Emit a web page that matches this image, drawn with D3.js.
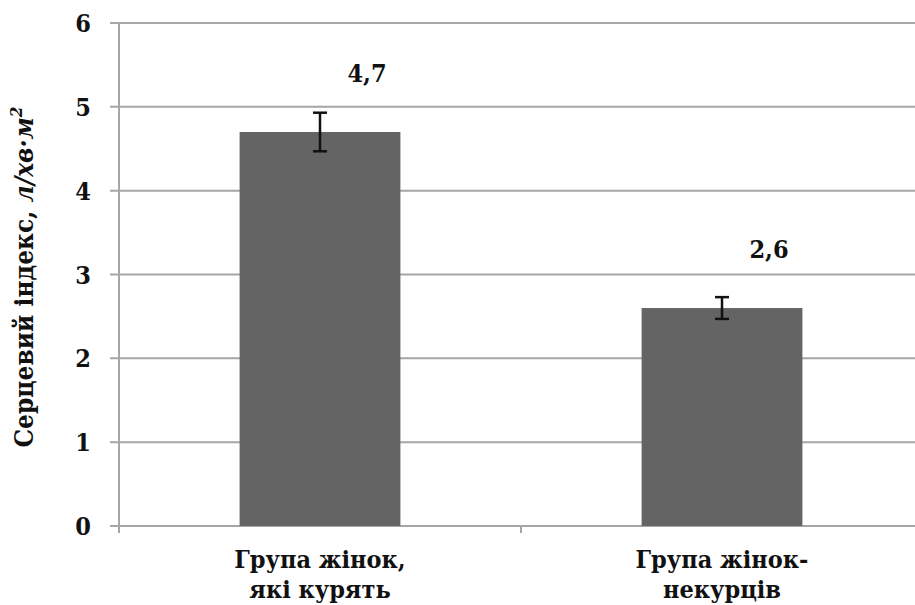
<!DOCTYPE html>
<html>
<head>
<meta charset="utf-8">
<script src="https://cdn.jsdelivr.net/npm/d3@7"></script>
<style>
  body { margin: 0; background: #fff; }
  svg text { font-stretch: condensed; }
</style>
</head>
<body>
<svg id="chart" width="915" height="605"></svg>
<script>
// chart data
var categories = [["Група жінок,", "які курять"], ["Група жінок-", "некурців"]];
var values = [4.7, 2.6];
var errors = [0.23, 0.13];
var valueLabels = ["4,7", "2,6"];
var yTicks = [0, 1, 2, 3, 4, 5, 6];

var FONT = "'DejaVu Serif Condensed', 'DejaVu Serif', serif";

var svg = d3.select("#chart")
    .attr("font-family", FONT).attr("font-weight", "bold");
var plotLeft = 119, plotRight = 923, plotTop = 23, plotBottom = 526;

var x = d3.scaleBand().domain(d3.range(values.length)).range([plotLeft, plotRight]).paddingInner(0.6).paddingOuter(0.3);
var xOuter = d3.scaleBand().domain(d3.range(values.length)).range([plotLeft, plotRight]);
var y = d3.scaleLinear().domain([0, 6]).range([plotBottom, plotTop]);

// gridlines + y ticks
svg.append("g").selectAll("line").data(yTicks).enter().append("line")
    .attr("x1", plotLeft - 9).attr("x2", 915)
    .attr("y1", function (d) { return y(d); }).attr("y2", function (d) { return y(d); })
    .attr("stroke", "#a6a6a6").attr("stroke-width", 2);

svg.append("g").selectAll("text").data(yTicks).enter().append("text")
    .attr("x", 91).attr("y", function (d) { return y(d); })
    .attr("dy", "0.36em").attr("text-anchor", "end")
    .attr("font-size", 25).attr("fill", "#111")
    .text(function (d) { return d; });

// bars
svg.append("g").selectAll("rect").data(values).enter().append("rect")
    .attr("x", function (d, i) { return x(i); })
    .attr("width", x.bandwidth())
    .attr("y", function (d) { return y(d); })
    .attr("height", function (d) { return plotBottom - y(d); })
    .attr("fill", "#646464");

// axes lines
svg.append("line").attr("x1", plotLeft).attr("x2", plotLeft).attr("y1", plotTop).attr("y2", plotBottom + 7)
    .attr("stroke", "#a6a6a6").attr("stroke-width", 2);
svg.append("g").selectAll("line").data(d3.range(1, values.length)).enter().append("line")
    .attr("x1", function (d) { return xOuter(d); }).attr("x2", function (d) { return xOuter(d); })
    .attr("y1", plotBottom).attr("y2", plotBottom + 7)
    .attr("stroke", "#a6a6a6").attr("stroke-width", 2);

// error bars
var eb = svg.append("g").attr("stroke", "#111").attr("stroke-width", 2.5);
values.forEach(function (v, i) {
    var cx = x(i) + x.bandwidth() / 2;
    eb.append("line").attr("x1", cx).attr("x2", cx).attr("y1", y(v + errors[i])).attr("y2", y(v - errors[i]));
    eb.append("line").attr("x1", cx - 7).attr("x2", cx + 7).attr("y1", y(v + errors[i])).attr("y2", y(v + errors[i]));
    eb.append("line").attr("x1", cx - 7).attr("x2", cx + 7).attr("y1", y(v - errors[i])).attr("y2", y(v - errors[i]));
});

// value labels
svg.append("g").selectAll("text").data(values).enter().append("text")
    .attr("x", function (d, i) { return x(i) + x.bandwidth() / 2 + 47; })
    .attr("y", function (d) { return y(d) - 50; })
    .attr("text-anchor", "middle").attr("font-size", 25).attr("fill", "#111")
    .text(function (d, i) { return valueLabels[i]; });

// category labels
var cat = svg.append("g").selectAll("text").data(categories).enter().append("text")
    .attr("x", function (d, i) { return x(i) + x.bandwidth() / 2; })
    .attr("y", 568).attr("text-anchor", "middle").attr("font-size", 25).attr("fill", "#111");
cat.append("tspan").text(function (d) { return d[0]; });
cat.append("tspan").attr("x", function (d, i) { return x(i) + x.bandwidth() / 2; }).attr("dy", 30)
    .text(function (d) { return d[1]; });

// y axis title
var title = svg.append("text").attr("transform", "translate(33,277) rotate(-90)")
    .attr("text-anchor", "middle").attr("font-size", 26).attr("fill", "#111");
title.append("tspan").text("Серцевий індекс, ");
title.append("tspan").attr("font-style", "italic").text("л/хв·м");
title.append("tspan").attr("font-style", "italic").attr("font-size", 17).attr("dy", -11).text("2");
</script>
</body>
</html>
